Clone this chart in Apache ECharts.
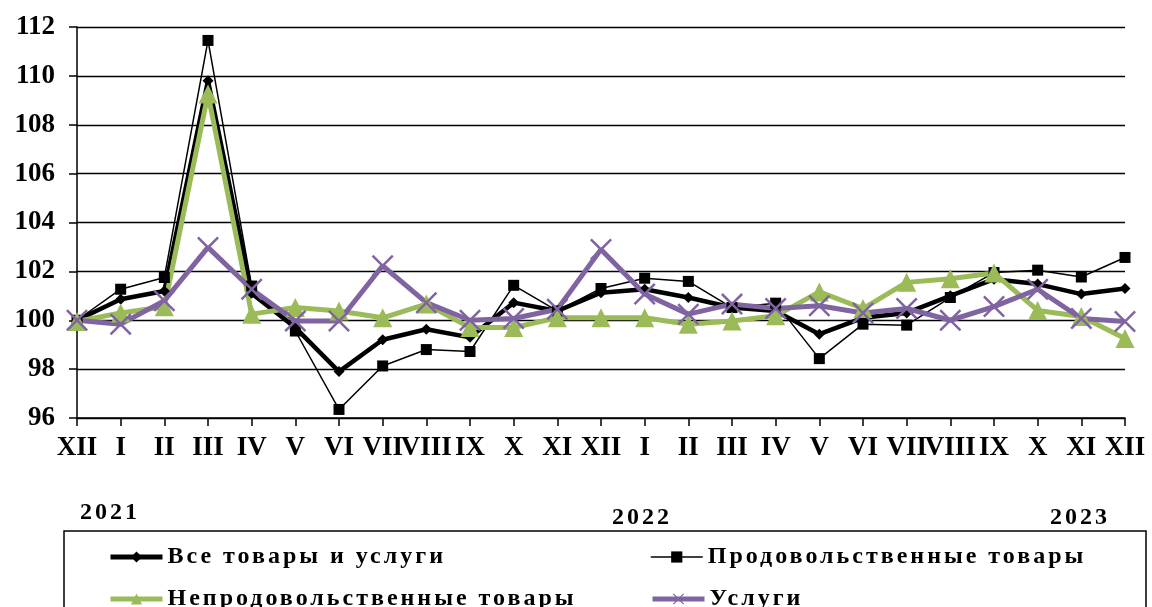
<!DOCTYPE html>
<html>
<head>
<meta charset="utf-8">
<script src="https://cdn.jsdelivr.net/npm/echarts@6/dist/echarts.min.js"></script>
<style>
html,body{margin:0;padding:0;background:#fff;}
#chart{width:1152px;height:607px;}
</style>
</head>
<body>
<div id="chart"></div>
<script>
const categories = ['XII','I','II','III','IV','V','VI','VII','VIII','IX','X','XI','XII','I','II','III','IV','V','VI','VII','VIII','IX','X','XI','XII'];
const yearLabels = ['2021','2022','2023'];
const seriesNames = ['Все товары и услуги','Продовольственные товары','Непродовольственные товары','Услуги'];
const allGoods = [100.0,100.86,101.2,109.8,101.1,99.7,97.9,99.2,99.63,99.3,100.72,100.38,101.13,101.27,100.93,100.52,100.38,99.43,100.1,100.3,101.0,101.68,101.48,101.07,101.3];
const foodGoods = [100.0,101.27,101.75,111.45,101.4,99.56,96.35,98.13,98.8,98.72,101.43,100.38,101.3,101.72,101.59,100.52,100.7,98.43,99.84,99.8,100.93,101.95,102.05,101.77,102.57];
const nonFoodGoods = [99.95,100.3,100.55,109.26,100.25,100.52,100.38,100.1,100.66,99.7,99.7,100.1,100.1,100.1,99.84,99.97,100.18,101.16,100.48,101.55,101.7,101.93,100.4,100.15,99.25];
const services = [100.0,99.84,100.8,102.98,101.27,99.97,99.97,102.23,100.72,100.0,100.07,100.45,102.9,101.07,100.25,100.66,100.48,100.59,100.3,100.48,100.0,100.56,101.27,100.07,99.95];

// wide-spaced text for legend / year captions (24px text only)
(function () {
  const proto = CanvasRenderingContext2D.prototype;
  const orig = proto.fillText;
  proto.fillText = function (t, x, y, m) {
    const f = this.font || '';
    if ('letterSpacing' in this) this.letterSpacing = /(^|\s)24px/.test(f) ? '3px' : '0px';
    return m === undefined ? orig.call(this, t, x, y) : orig.call(this, t, x, y, m);
  };
})();

const FONT = '"Liberation Serif", "Times New Roman", serif';
const crossPath = 'path://M0,0.8L0.8,0L10,9.2L9.2,10Z M9.2,0L10,0.8L0.8,10L0,9.2Z';

const chart = echarts.init(document.getElementById('chart'));
const legendText = {fontFamily: FONT, fontWeight: 'bold', fontSize: 24, color: '#000'};
function legendItem(name, left, top, lineWidth) {
  return {data: [{name: name}], left: left, top: top, padding: 0, itemWidth: 52, itemHeight: 14,
    lineStyle: {width: lineWidth}, textStyle: legendText, selectedMode: false};
}
chart.setOption({
  backgroundColor: '#fff',
  animation: false,
  grid: {left: 77, right: 27, top: 27, bottom: 189},
  xAxis: {
    type: 'category', data: categories, boundaryGap: false,
    axisLine: {lineStyle: {color: '#000', width: 1.5}},
    axisTick: {show: true, length: 8, inside: false, lineStyle: {color: '#000', width: 1.5}},
    axisLabel: {interval: 0, margin: 17, fontFamily: FONT, fontWeight: 'bold', fontSize: 27, color: '#000'},
    splitLine: {show: false}
  },
  yAxis: {
    type: 'value', min: 96, max: 112, interval: 2,
    axisLine: {show: true, lineStyle: {color: '#000', width: 1.5}},
    axisTick: {show: true, length: 8, lineStyle: {color: '#000', width: 1.5}},
    axisLabel: {margin: 22, fontFamily: FONT, fontWeight: 'bold', fontSize: 27, color: '#000'},
    splitLine: {show: true, lineStyle: {color: '#000', width: 1.3}}
  },
  legend: [
    legendItem(seriesNames[0], 108, 545, 5),
    legendItem(seriesNames[1], 650, 545, 1.5),
    legendItem(seriesNames[2], 108, 587, 5),
    legendItem(seriesNames[3], 650, 587, 5)
  ],
  graphic: [
    {type: 'rect', shape: {x: 64, y: 531, width: 1082, height: 100}, style: {fill: 'none', stroke: '#000', lineWidth: 1.5}, silent: true},
    {type: 'text', left: 80, top: 501, style: {text: yearLabels[0], font: 'bold 24px ' + FONT, fill: '#000'}},
    {type: 'text', left: 612, top: 506, style: {text: yearLabels[1], font: 'bold 24px ' + FONT, fill: '#000'}},
    {type: 'text', left: 1050, top: 506, style: {text: yearLabels[2], font: 'bold 24px ' + FONT, fill: '#000'}}
  ],
  series: [
    {name: seriesNames[0], type: 'line', data: allGoods, symbol: 'diamond', symbolSize: 11,
      lineStyle: {color: '#000', width: 4.5}, itemStyle: {color: '#000'}},
    {name: seriesNames[1], type: 'line', data: foodGoods, symbol: 'rect', symbolSize: 11,
      lineStyle: {color: '#000', width: 1.5}, itemStyle: {color: '#000'}},
    {name: seriesNames[2], type: 'line', data: nonFoodGoods, symbol: 'triangle', symbolSize: 19,
      lineStyle: {color: '#9BBB59', width: 5}, itemStyle: {color: '#9BBB59'}},
    {name: seriesNames[3], type: 'line', data: services, symbol: crossPath, symbolSize: 22,
      lineStyle: {color: '#8064A2', width: 5}, itemStyle: {color: '#8064A2'}}
  ]
});
</script>
</body>
</html>
